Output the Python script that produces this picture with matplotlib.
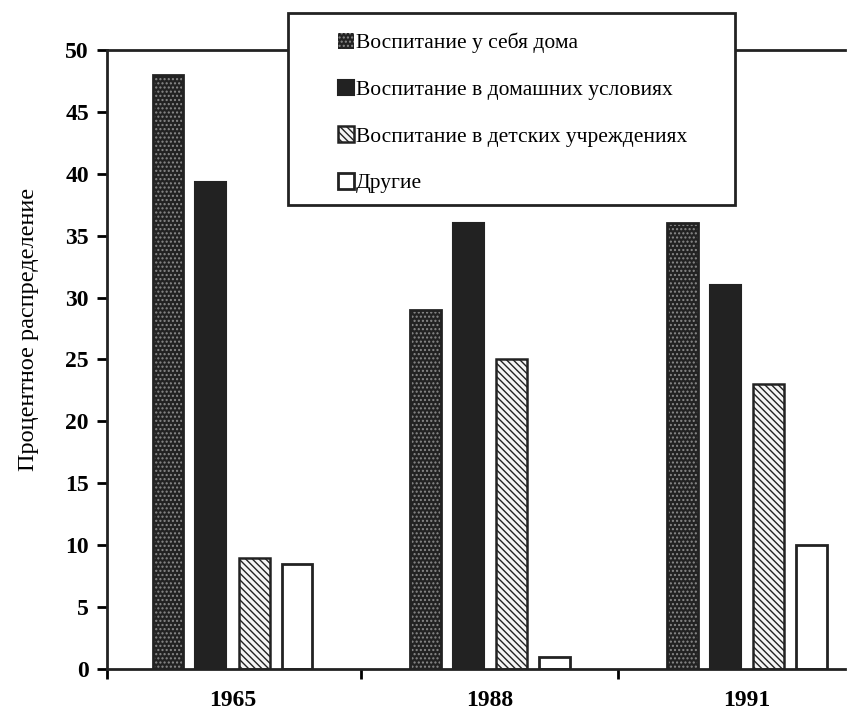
import numpy as np
import matplotlib
matplotlib.use('Agg')
import matplotlib.pyplot as plt
from matplotlib.patches import Rectangle

# Data
years = ['1965', '1988', '1991']
series = ['Воспитание у себя дома',
          'Воспитание в домашних условиях',
          'Воспитание в детских учреждениях',
          'Другие']
at_home   = [48, 29, 36]
home_cond = [39.3, 36, 31]
nursery   = [9, 25, 23]
other     = [8.5, 1, 10]

plt.rcParams['font.family'] = ['Liberation Serif', 'DejaVu Serif']
plt.rcParams['hatch.linewidth'] = 1.0

fig = plt.figure(figsize=(8.58, 7.14), dpi=100)
ax = fig.add_axes([0.1247, 0.063, 0.8603, 0.867])

x = np.arange(len(years))
w = 0.12
offs = [-0.251, -0.084, 0.084, 0.251]
dark = '#222222'

# speckled dark bars: hatch drawn in grey, outline drawn on top
b1 = ax.bar(x + offs[0], at_home, w, color=dark, hatch='....',
            edgecolor='#8a8a8a', linewidth=0)
ax.bar(x + offs[0], at_home, w, fill=False, edgecolor=dark, linewidth=2)
b2 = ax.bar(x + offs[1], home_cond, w, color=dark, edgecolor=dark, linewidth=1.5)
b3 = ax.bar(x + offs[2], nursery, w, color='#f4f4f4', hatch='\\\\\\\\\\',
            edgecolor=dark, linewidth=1.8)
b4 = ax.bar(x + offs[3], other, w, color='white', edgecolor=dark, linewidth=2)

ax.set_xlim(-0.488, 2.382)
ax.set_ylim(0, 50)
ax.set_yticks(np.arange(0, 51, 5))
ax.set_xticks(x)
ax.set_xticklabels(years)
ax.set_xticks([-0.488, 0.5, 1.5], minor=True)
ax.tick_params(axis='x', which='major', length=0, pad=15)
ax.tick_params(axis='x', which='minor', direction='out', length=7, width=2)
ax.tick_params(axis='y', direction='out', length=7, width=2, pad=6)
for lab in ax.get_xticklabels() + ax.get_yticklabels():
    lab.set_fontweight('bold')
    lab.set_fontsize(17)

ax.spines['right'].set_visible(False)
for s in ['left', 'bottom', 'top']:
    ax.spines[s].set_linewidth(2)
    ax.spines[s].set_color(dark)

ax.set_ylabel('Процентное распределение', fontsize=17.5)
ax.yaxis.set_label_coords(-0.092, 0.548)

# legend box
fig.patches.append(Rectangle((0.3357, 0.7129), 0.521, 0.269,
                             transform=fig.transFigure, facecolor='white',
                             edgecolor=dark, linewidth=2, zorder=5))
leg = fig.legend([b1, b2, b3, b4], series, loc='upper left',
                 bbox_to_anchor=(0.381, 0.969), frameon=False,
                 fontsize=15.5, handlelength=0.75, handleheight=0.75,
                 handletextpad=0.1, labelspacing=1.22, borderpad=0)
leg.set_zorder(6)

fig.savefig('out.png', dpi=100)
